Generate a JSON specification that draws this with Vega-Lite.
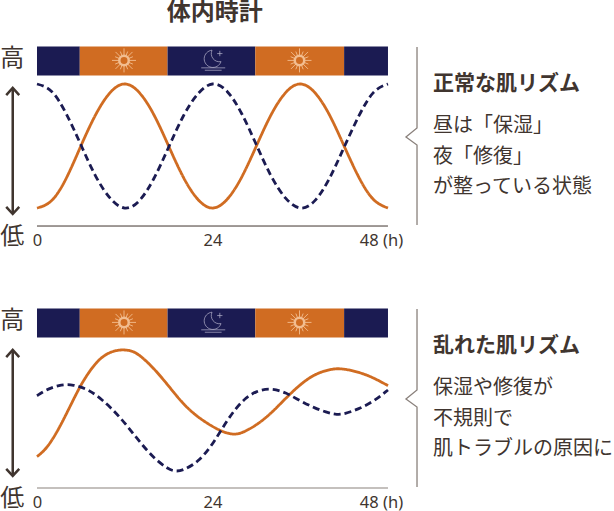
{"$schema":"https://vega.github.io/schema/vega-lite/v6.json","padding":0,"spacing":0,"bounds":"flush","autosize":{"type":"pad"},"config":{"view":{"stroke":null},"text":{"font":"Noto Sans CJK JP"}},
"datasets":{
"bands":[{"hour":0,"hourEnd":5.85,"level":130.2,"levelEnd":106.9,"phase":"夜"},{"hour":5.85,"hourEnd":17.85,"level":130.2,"levelEnd":106.9,"phase":"昼"},{"hour":17.85,"hourEnd":29.85,"level":130.2,"levelEnd":106.9,"phase":"夜"},{"hour":29.85,"hourEnd":42,"level":130.2,"levelEnd":106.9,"phase":"昼"},{"hour":42,"hourEnd":48,"level":130.2,"levelEnd":106.9,"phase":"夜"}],
"suns":[{"hour":11.9,"level":119},{"hour":35.9,"level":119}],
"moons":[{"hour":24.1,"level":119}],
"arrow":[{"seq":1,"end":"top","hour":-3.32,"level":96.8},{"seq":2,"end":"bottom","hour":-3.32,"level":-4.8}],
"bracket":[{"seq":1,"hour":51.97,"level":129.8},{"seq":2,"hour":51.97,"level":64.5},{"seq":3,"hour":50.46,"level":57.3},{"seq":4,"hour":51.97,"level":50.8},{"seq":5,"hour":51.97,"level":-13.7}],
"baseline":[{"hour":0,"hourEnd":48,"level":-14.5}],
"ends":[{"label":"高","hour":-3.4,"level":120},{"label":"低","hour":-3.4,"level":-23}],
"curves1":[
{"series":"保湿","hour":0,"level":0},{"series":"保湿","hour":2,"level":6},{"series":"保湿","hour":4,"level":24},{"series":"保湿","hour":6,"level":50},{"series":"保湿","hour":8,"level":75},{"series":"保湿","hour":10,"level":93},{"series":"保湿","hour":12,"level":100},{"series":"保湿","hour":14,"level":93},{"series":"保湿","hour":16,"level":75},{"series":"保湿","hour":18,"level":50},{"series":"保湿","hour":20,"level":25},{"series":"保湿","hour":22,"level":7},{"series":"保湿","hour":24,"level":0},{"series":"保湿","hour":26,"level":7},{"series":"保湿","hour":28,"level":25},{"series":"保湿","hour":30,"level":50},{"series":"保湿","hour":32,"level":75},{"series":"保湿","hour":34,"level":93},{"series":"保湿","hour":36,"level":100},{"series":"保湿","hour":38,"level":93},{"series":"保湿","hour":40,"level":75},{"series":"保湿","hour":42,"level":50},{"series":"保湿","hour":44,"level":25},{"series":"保湿","hour":46,"level":7},{"series":"保湿","hour":48,"level":0},
{"series":"修復","hour":0,"level":100},{"series":"修復","hour":2,"level":94},{"series":"修復","hour":4,"level":76},{"series":"修復","hour":6,"level":51},{"series":"修復","hour":8,"level":26},{"series":"修復","hour":10,"level":8},{"series":"修復","hour":12,"level":0},{"series":"修復","hour":14,"level":6},{"series":"修復","hour":16,"level":24},{"series":"修復","hour":18,"level":49},{"series":"修復","hour":20,"level":74},{"series":"修復","hour":22,"level":92},{"series":"修復","hour":24,"level":100},{"series":"修復","hour":26,"level":94},{"series":"修復","hour":28,"level":76},{"series":"修復","hour":30,"level":51},{"series":"修復","hour":32,"level":26},{"series":"修復","hour":34,"level":8},{"series":"修復","hour":36,"level":0},{"series":"修復","hour":38,"level":6},{"series":"修復","hour":40,"level":24},{"series":"修復","hour":42,"level":49},{"series":"修復","hour":44,"level":74},{"series":"修復","hour":46,"level":93},{"series":"修復","hour":48,"level":100}],
"curves2":[
{"series":"保湿","hour":0,"level":10.8},{"series":"保湿","hour":1,"level":15.5},{"series":"保湿","hour":2,"level":23.4},{"series":"保湿","hour":3,"level":33.5},{"series":"保湿","hour":4,"level":45},{"series":"保湿","hour":5,"level":57},{"series":"保湿","hour":6,"level":68.6},{"series":"保湿","hour":7,"level":78},{"series":"保湿","hour":8,"level":86},{"series":"保湿","hour":9,"level":91.6},{"series":"保湿","hour":10,"level":95},{"series":"保湿","hour":11,"level":96.6},{"series":"保湿","hour":12,"level":97},{"series":"保湿","hour":13,"level":96},{"series":"保湿","hour":14,"level":93},{"series":"保湿","hour":16,"level":82},{"series":"保湿","hour":18,"level":67.8},{"series":"保湿","hour":20,"level":53},{"series":"保湿","hour":22,"level":42.5},{"series":"保湿","hour":24,"level":35},{"series":"保湿","hour":25,"level":32},{"series":"保湿","hour":26,"level":29.6},{"series":"保湿","hour":27,"level":28.6},{"series":"保湿","hour":28,"level":29.6},{"series":"保湿","hour":30,"level":36},{"series":"保湿","hour":32,"level":45.5},{"series":"保湿","hour":34,"level":57.8},{"series":"保湿","hour":36,"level":69.1},{"series":"保湿","hour":38,"level":77.5},{"series":"保湿","hour":40,"level":81},{"series":"保湿","hour":41,"level":81.8},{"series":"保湿","hour":42,"level":81.5},{"series":"保湿","hour":44,"level":79},{"series":"保湿","hour":46,"level":74.5},{"series":"保湿","hour":48,"level":68},
{"series":"修復","hour":0,"level":59.9},{"series":"修復","hour":1,"level":63.7},{"series":"修復","hour":2,"level":66.4},{"series":"修復","hour":3,"level":68.2},{"series":"修復","hour":4,"level":69},{"series":"修復","hour":5,"level":68.5},{"series":"修復","hour":6,"level":66.9},{"series":"修復","hour":7,"level":64.5},{"series":"修復","hour":8,"level":61},{"series":"修復","hour":10,"level":51.1},{"series":"修復","hour":12,"level":38.2},{"series":"修復","hour":14,"level":22.9},{"series":"修復","hour":16,"level":9.4},{"series":"修復","hour":18,"level":0.3},{"series":"修復","hour":19,"level":-1.2},{"series":"修復","hour":20,"level":-0.3},{"series":"修復","hour":22,"level":6.2},{"series":"修復","hour":24,"level":20.2},{"series":"修復","hour":26,"level":40.3},{"series":"修復","hour":28,"level":56},{"series":"修復","hour":30,"level":64},{"series":"修復","hour":32,"level":66},{"series":"修復","hour":34,"level":62.6},{"series":"修復","hour":36,"level":55.7},{"series":"修復","hour":38,"level":49.8},{"series":"修復","hour":40,"level":45.7},{"series":"修復","hour":41,"level":44.7},{"series":"修復","hour":42,"level":45},{"series":"修復","hour":44,"level":49.2},{"series":"修復","hour":46,"level":55.1},{"series":"修復","hour":48,"level":64.5}]
},
"vconcat":[
{"width":614,"height":262,
"encoding":{"x":{"field":"hour","type":"quantitative","scale":{"domain":[-5.06,78.91],"nice":false,"zero":false},"axis":{"values":[0,24,48],"title":null,"domain":false,"ticks":false,"grid":false,"offset":-36,"labelFont":"Noto Sans","labelFontSize":16.5,"labelColor":"#40352f","labelPadding":6,"labelBound":false,"labelFlush":false,"labelOverlap":false,"labelExpr":"datum.value==48?'48 (h)':datum.label","labelOffset":{"condition":{"test":"datum.value==48","value":-7},"value":0}}},
"y":{"field":"level","type":"quantitative","axis":null,"scale":{"domain":[-43.5,167.7],"nice":false,"zero":false}}},
"layer":[
{"data":{"name":"bands"},"mark":{"type":"bar"},"encoding":{"x2":{"field":"hourEnd"},"y2":{"field":"levelEnd"},"color":{"field":"phase","type":"nominal","scale":{"domain":["昼","夜"],"range":["#d06c22","#1b1b52"]},"legend":null}}},
{"data":{"name":"suns"},"mark":{"type":"point","shape":"circle","size":90,"filled":false,"stroke":"#f2bd90","strokeWidth":2.5,"opacity":1}},
{"data":{"name":"suns"},"mark":{"type":"point","size":576,"filled":false,"stroke":"#f2bd90","strokeWidth":0.9,"opacity":1,"shape":"M.42,0L1,0M-.42,0L-1,0M0,.42L0,1M0,-.42L0,-1M.297,.297L.707,.707M-.297,.297L-.707,.707M.297,-.297L.707,-.707M-.297,-.297L-.707,-.707M.388,.161L.739,.306M-.388,.161L-.739,.306M.388,-.161L.739,-.306M-.388,-.161L-.739,-.306M.161,.388L.306,.739M-.161,.388L-.306,.739M.161,-.388L.306,-.739M-.161,-.388L-.306,-.739"}},
{"data":{"name":"moons"},"mark":{"type":"point","size":576,"filled":false,"stroke":"#b9b6cf","strokeWidth":0.7,"opacity":1,"shape":"M-.1,-.85A.72,.72 0 1 0 .65,.1A.68,.68 0 0 1 -.1,-.85M.55,-.8L.55,-.35M.33,-.57L.77,-.57M-1,.62L1,.62M-.7,.82L.7,.82"}},
{"data":{"name":"curves1"},"mark":{"type":"line","strokeWidth":2.8,"interpolate":"natural"},"encoding":{"color":{"field":"series","type":"nominal","scale":{"domain":["保湿","修復"],"range":["#d06c22","#1b1b52"]},"legend":null},"strokeDash":{"field":"series","type":"nominal","scale":{"domain":["保湿","修復"],"range":[[1,0],[7,4]]},"legend":null}}},
{"data":{"name":"arrow"},"mark":{"type":"line","color":"#40352f","strokeWidth":2.5},"encoding":{"order":{"field":"seq"}}},
{"data":{"name":"arrow"},"mark":{"type":"point","filled":false,"size":169,"stroke":"#40352f","strokeWidth":2.5,"opacity":1},"encoding":{"shape":{"field":"end","type":"nominal","scale":{"domain":["top","bottom"],"range":["M-1,1.1L0,0L1,1.1","M-1,-1.1L0,0L1,-1.1"]},"legend":null}}},
{"data":{"name":"baseline"},"mark":{"type":"rule","color":"#40352f","strokeWidth":1},"encoding":{"x2":{"field":"hourEnd"}}},
{"data":{"name":"bracket"},"mark":{"type":"line","color":"#8a817c","strokeWidth":1.3},"encoding":{"order":{"field":"seq"}}},
{"data":{"name":"ends"},"mark":{"type":"text","fontSize":24,"color":"#40352f","align":"center","baseline":"middle"},"encoding":{"text":{"field":"label"}}},
{"data":{"values":[{"label":"体内時計","hour":24.3,"level":157.6}]},"mark":{"type":"text","fontSize":24,"fontWeight":"bold","color":"#40352f","align":"center","baseline":"middle"},"encoding":{"text":{"field":"label"}}},
{"data":{"values":[{"label":"正常な肌リズム","hour":54.15,"level":100}]},"mark":{"type":"text","fontSize":21,"fontWeight":"bold","color":"#40352f","align":"left","baseline":"middle"},"encoding":{"text":{"field":"label"}}},
{"data":{"values":[{"label":"昼は「保湿」","hour":54.15,"level":66},{"label":"夜「修復」","hour":54.15,"level":41},{"label":"が整っている状態","hour":54.15,"level":17}]},"mark":{"type":"text","fontSize":20,"color":"#40352f","align":"left","baseline":"middle"},"encoding":{"text":{"field":"label"}}}
]},
{"width":614,"height":249,
"encoding":{"x":{"field":"hour","type":"quantitative","scale":{"domain":[-5.06,78.91],"nice":false,"zero":false},"axis":{"values":[0,24,48],"title":null,"domain":false,"ticks":false,"grid":false,"offset":-23,"labelFont":"Noto Sans","labelFontSize":16.5,"labelColor":"#40352f","labelPadding":6,"labelBound":false,"labelFlush":false,"labelOverlap":false,"labelExpr":"datum.value==48?'48 (h)':datum.label","labelOffset":{"condition":{"test":"datum.value==48","value":-7},"value":0}}},
"y":{"field":"level","type":"quantitative","axis":null,"scale":{"domain":[-33.06,167.7],"nice":false,"zero":false}}},
"layer":[
{"data":{"name":"bands"},"mark":{"type":"bar"},"encoding":{"x2":{"field":"hourEnd"},"y2":{"field":"levelEnd"},"color":{"field":"phase","type":"nominal","scale":{"domain":["昼","夜"],"range":["#d06c22","#1b1b52"]},"legend":null}}},
{"data":{"name":"suns"},"mark":{"type":"point","shape":"circle","size":90,"filled":false,"stroke":"#f2bd90","strokeWidth":2.5,"opacity":1}},
{"data":{"name":"suns"},"mark":{"type":"point","size":576,"filled":false,"stroke":"#f2bd90","strokeWidth":0.9,"opacity":1,"shape":"M.42,0L1,0M-.42,0L-1,0M0,.42L0,1M0,-.42L0,-1M.297,.297L.707,.707M-.297,.297L-.707,.707M.297,-.297L.707,-.707M-.297,-.297L-.707,-.707M.388,.161L.739,.306M-.388,.161L-.739,.306M.388,-.161L.739,-.306M-.388,-.161L-.739,-.306M.161,.388L.306,.739M-.161,.388L-.306,.739M.161,-.388L.306,-.739M-.161,-.388L-.306,-.739"}},
{"data":{"name":"moons"},"mark":{"type":"point","size":576,"filled":false,"stroke":"#b9b6cf","strokeWidth":0.7,"opacity":1,"shape":"M-.1,-.85A.72,.72 0 1 0 .65,.1A.68,.68 0 0 1 -.1,-.85M.55,-.8L.55,-.35M.33,-.57L.77,-.57M-1,.62L1,.62M-.7,.82L.7,.82"}},
{"data":{"name":"curves2"},"mark":{"type":"line","strokeWidth":2.8,"interpolate":"basis"},"encoding":{"color":{"field":"series","type":"nominal","scale":{"domain":["保湿","修復"],"range":["#d06c22","#1b1b52"]},"legend":null},"strokeDash":{"field":"series","type":"nominal","scale":{"domain":["保湿","修復"],"range":[[1,0],[7,4]]},"legend":null}}},
{"data":{"name":"arrow"},"mark":{"type":"line","color":"#40352f","strokeWidth":2.5},"encoding":{"order":{"field":"seq"}}},
{"data":{"name":"arrow"},"mark":{"type":"point","filled":false,"size":169,"stroke":"#40352f","strokeWidth":2.5,"opacity":1},"encoding":{"shape":{"field":"end","type":"nominal","scale":{"domain":["top","bottom"],"range":["M-1,1.1L0,0L1,1.1","M-1,-1.1L0,0L1,-1.1"]},"legend":null}}},
{"data":{"name":"baseline"},"mark":{"type":"rule","color":"#8a817c","strokeWidth":1.2},"encoding":{"x2":{"field":"hourEnd"}}},
{"data":{"name":"bracket"},"mark":{"type":"line","color":"#8a817c","strokeWidth":1.3},"encoding":{"order":{"field":"seq"}}},
{"data":{"name":"ends"},"mark":{"type":"text","fontSize":24,"color":"#40352f","align":"center","baseline":"middle"},"encoding":{"text":{"field":"label"}}},
{"data":{"values":[{"label":"乱れた肌リズム","hour":54.15,"level":100}]},"mark":{"type":"text","fontSize":21,"fontWeight":"bold","color":"#40352f","align":"left","baseline":"middle"},"encoding":{"text":{"field":"label"}}},
{"data":{"values":[{"label":"保湿や修復が","hour":54.15,"level":66},{"label":"不規則で","hour":54.15,"level":41},{"label":"肌トラブルの原因に","hour":54.15,"level":17}]},"mark":{"type":"text","fontSize":20,"color":"#40352f","align":"left","baseline":"middle"},"encoding":{"text":{"field":"label"}}}
]}
]}
